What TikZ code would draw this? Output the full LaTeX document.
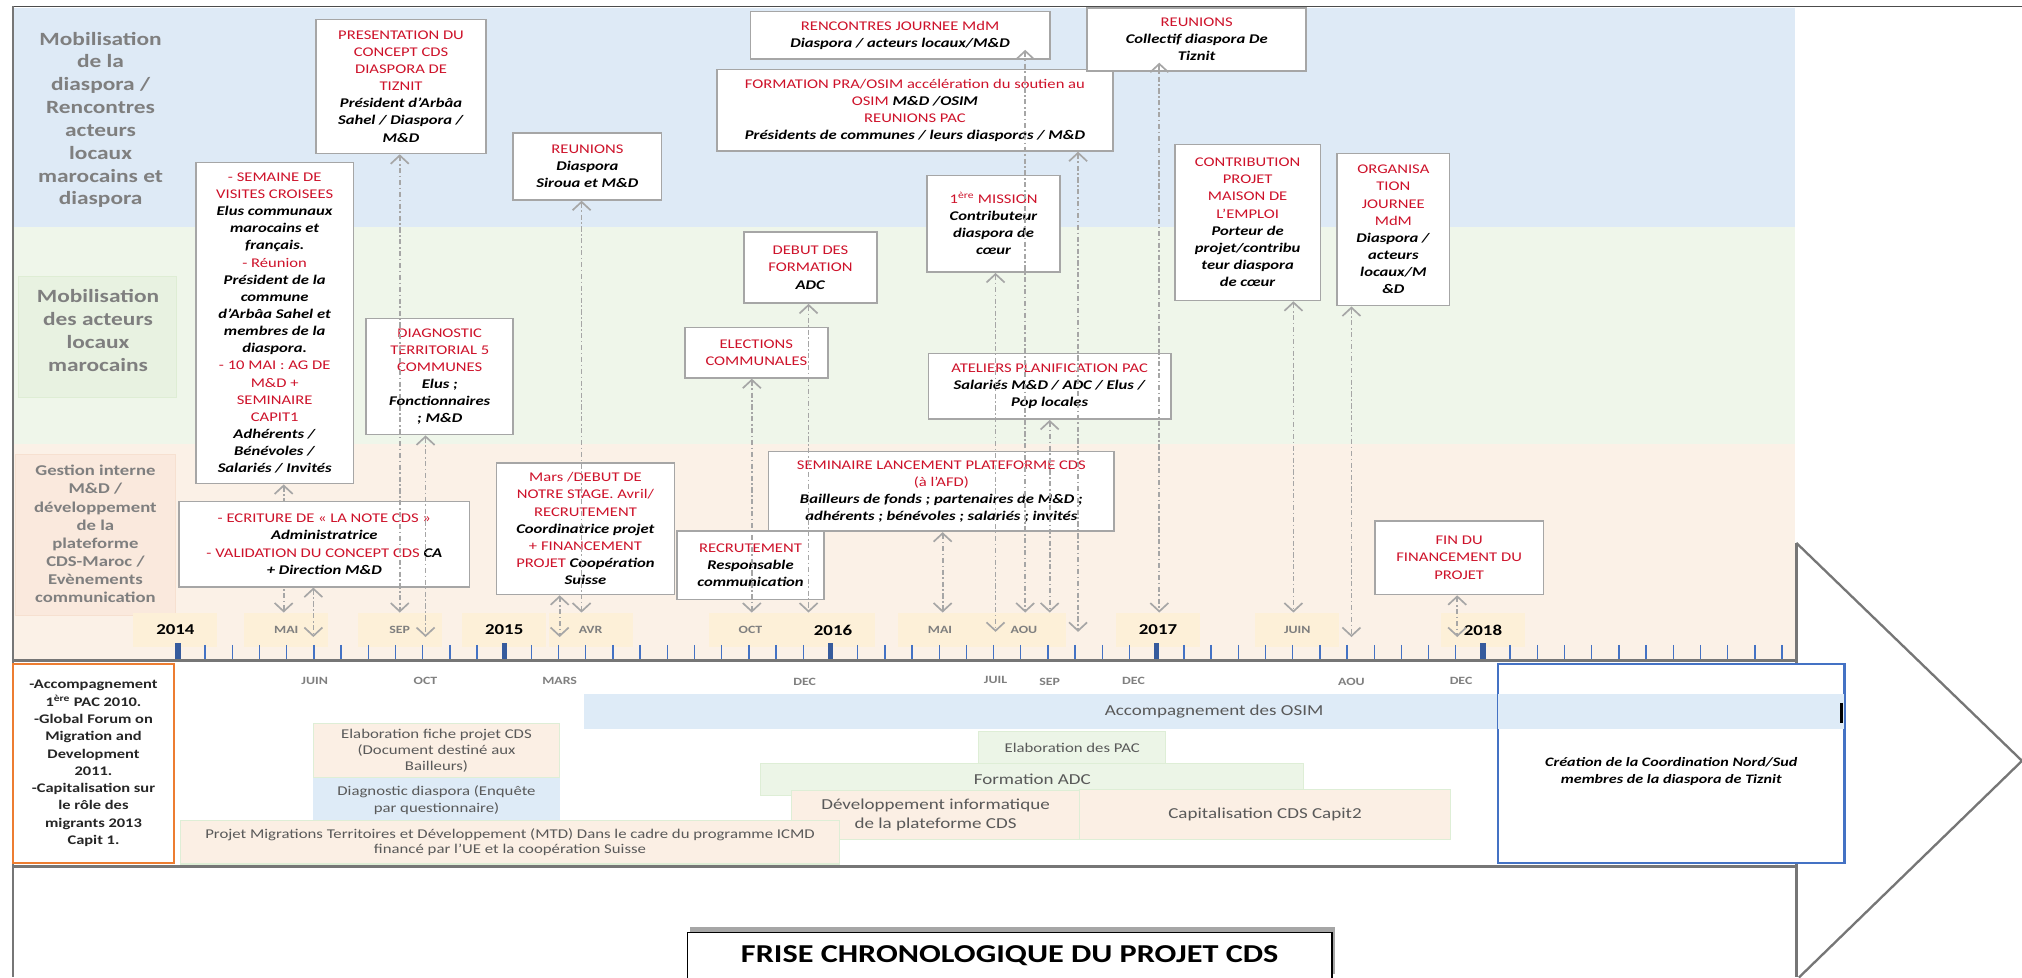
\documentclass[tikz,border=0pt]{standalone}
\usepackage{fontspec}
\setmainfont{Carlito}[FakeStretch=1.25]
\usetikzlibrary{arrows.meta,shadows}
\definecolor{bandblue}{RGB}{222,234,246}
\definecolor{bandgreen}{RGB}{239,246,234}
\definecolor{bandpeach}{RGB}{251,241,231}
\definecolor{lbgreen}{RGB}{232,242,225}
\definecolor{lbgreenb}{RGB}{222,237,212}
\definecolor{lbpeach}{RGB}{250,233,221}
\definecolor{lbpeachb}{RGB}{246,224,208}
\definecolor{mlbl}{RGB}{253,240,216}
\definecolor{boxgray}{RGB}{166,166,166}
\definecolor{evred}{RGB}{206,18,42}
\definecolor{lanegray}{RGB}{127,127,127}
\definecolor{tickblue}{RGB}{68,114,196}
\definecolor{barblue}{RGB}{222,235,247}
\definecolor{bargreen}{RGB}{236,245,231}
\definecolor{barpeach}{RGB}{251,239,228}
\definecolor{barborder}{RGB}{222,238,214}
\definecolor{bartext}{RGB}{89,89,89}
\definecolor{accorange}{RGB}{237,125,49}
\definecolor{framegray}{RGB}{118,118,118}
\definecolor{crblue}{RGB}{68,114,196}
\newcommand\Rd[1]{\textcolor{evred}{#1}}
\newcommand\Bk[1]{\textbf{\textit{#1}}}
\tikzset{
  evt/.style={draw=boxgray, line width=1.3pt, fill=white, align=center, inner sep=0pt,
    font=\fontsize{10.3}{13.3}\selectfont},
  cn/.style={draw=boxgray, line width=1.3pt, dash pattern=on 4pt off 2pt on 1.2pt off 2pt,
    {Straight Barb[length=6.5pt,width=14pt]}-{Straight Barb[length=6.5pt,width=14pt]}},
  mlbox/.style={fill=mlbl, minimum width=65pt, minimum height=26pt, inner sep=0pt},
  yrlbl/.style={font=\bfseries\fontsize{11.7}{14}\selectfont, text=black},
  molbl/.style={font=\bfseries\fontsize{8.6}{10}\selectfont, text=lanegray, inner sep=0pt},
  lanetext/.style={align=center, text=lanegray, inner sep=0pt},
  barbox/.style={draw=barborder, line width=0.8pt, inner sep=0pt, align=center, text=bartext},
}
\newcommand\EvBox[6]{\node[evt, minimum width={#4-#2}, minimum height={#5-#3}] (#1) at ({(#2+#4)/2},{(#3+#5)/2}) {#6};}
\newcommand\Conn[4][]{\coordinate (#2end) at (#3,#4); \draw[cn,#1] (#2.south -| #2end) -- (#2end);}
\begin{document}
\begin{tikzpicture}[x=1pt,y=-1pt]
\useasboundingbox (0,0) rectangle (1568,758);
% bands
\fill[bandblue] (11,6) rectangle (1392,176);
\fill[bandgreen] (11,176) rectangle (1392,344);
\fill[bandpeach] (11,344) rectangle (1392,512);
% lane labels
\node[lanetext, font=\bfseries\fontsize{14.5}{17.7}\selectfont] (lane1) at (78,93)
  {Mobilisation\\de la\\diaspora /\\Rencontres\\acteurs\\locaux\\marocains et\\diaspora};
\node[draw=lbgreenb, fill=lbgreen, minimum width=123pt, minimum height=94pt, inner sep=0pt] (lane2box) at (75.5,261) {};
\node[lanetext, font=\bfseries\fontsize{14.5}{17.8}\selectfont] (lane2) at (76,256)
  {Mobilisation\\des acteurs\\locaux\\marocains};
\node[draw=lbpeachb, fill=lbpeach, minimum width=124pt, minimum height=125pt, inner sep=0pt] (lane3box) at (74,414.5) {};
\node[lanetext, font=\bfseries\fontsize{11.6}{14}\selectfont] (lane3) at (74,414)
  {Gestion interne\\M\&D /\\développement\\de la\\plateforme\\CDS-Maroc /\\Evènements\\communication};
% month / year labels above the axis
\node[mlbox, yrlbl] (l2014) at (136,488.5) {2014};
\node[mlbox, molbl] (lMAI14) at (222,488.5) {MAI};
\node[mlbox, molbl] (lSEP14) at (310,488.5) {SEP};
\node[mlbox, yrlbl] (l2015) at (391,488.5) {2015};
\node[mlbox, molbl] (lAVR15) at (458,488.5) {AVR};
\node[mlbox, molbl] (lOCT15) at (582,488.5) {OCT};
\node[mlbox, yrlbl] (l2016) at (646,488.5) {2016};
\node[mlbox, molbl] (lMAI16) at (729,488.5) {MAI};
\node[mlbox, molbl] (lAOU16) at (794,488.5) {AOU};
\node[mlbox, yrlbl] (l2017) at (898,488.5) {2017};
\node[mlbox, molbl] (lJUIN17) at (1006,488.5) {JUIN};
\node[mlbox, yrlbl] (l2018) at (1150,488.5) {2018};
% ticks
\foreach \m in {0,...,59} \draw[tickblue, line width=1.1pt] ({138+21.083*\m},500) -- ({138+21.083*\m},511);
\foreach \m in {0,12,24,36,48} \fill[tickblue!80!black] ({136+21.083*\m},499) rectangle ({140+21.083*\m},511);
% month labels below the axis
\node[molbl] (bJUIN14) at (244,528) {JUIN};
\node[molbl] (bOCT14) at (330,528) {OCT};
\node[molbl] (bMARS15) at (434,528) {MARS};
\node[molbl] (bDEC15) at (624,529) {DEC};
\node[molbl] (bJUIL16) at (772,527) {JUIL};
\node[molbl] (bSEP16) at (814,529) {SEP};
\node[molbl] (bDEC16) at (879,528) {DEC};
\node[molbl] (bAOU17) at (1048,529) {AOU};
\node[molbl] (bDEC17) at (1133,528) {DEC};
% frame
\draw[gray!60!black, line width=1.4pt] (10,5) -- (1568,5);
\draw[framegray, line width=1.3pt] (10,5) -- (10,758);
\draw[framegray, line width=1.8pt] (1393,421) -- (1393,758);
\draw[framegray, line width=1.8pt] (1393,421) -- (1568,590) -- (1395,758);
\draw[framegray, line width=2.2pt] (10,512) -- (1393,512);
\draw[framegray, line width=2.2pt] (10,672) -- (1393,672);
% bottom panel bars
\node[barbox, fill=barpeach, minimum width=191pt, minimum height=42pt, font=\fontsize{10.4}{12.5}\selectfont] (fiche) at (338.5,582)
  {Elaboration fiche projet CDS\\(Document destiné aux\\Bailleurs)};
\node[barbox, draw=none, fill=barblue, minimum width=191pt, minimum height=35pt, font=\fontsize{10.4}{12.8}\selectfont] (diasp) at (338.5,620.5)
  {Diagnostic diaspora (Enquête\\par questionnaire)};
\node[barbox, fill=bargreen, minimum width=145pt, minimum height=26pt, font=\fontsize{10.4}{12.5}\selectfont] (pac) at (831.5,580) {Elaboration des PAC};
\node[barbox, fill=bargreen, minimum width=421pt, minimum height=25pt, font=\fontsize{11.8}{14}\selectfont] (adc) at (800.5,604.5) {Formation ADC};
\node[barbox, fill=barpeach, minimum width=223pt, minimum height=38pt, font=\fontsize{11.8}{14.5}\selectfont] (devinfo) at (725.5,632)
  {Développement informatique\\de la plateforme CDS};
\node[barbox, fill=barpeach, minimum width=288pt, minimum height=39pt, font=\fontsize{11.8}{14}\selectfont] (capit) at (981,631.5) {Capitalisation CDS Capit2};
\node[barbox, fill=barpeach, minimum width=511pt, minimum height=34pt, font=\fontsize{10.4}{12}\selectfont] (mtd) at (395.5,653)
  {Projet Migrations Territoires et Développement (MTD) Dans le cadre du programme ICMD\\financé par l’UE et la coopération Suisse};
\node[draw=accorange, line width=1.5pt, fill=white, minimum width=125pt, minimum height=154pt, inner sep=0pt, align=center,
  font=\bfseries\fontsize{10.2}{13.4}\selectfont, text=black!85] (accomp) at (72.5,592)
  {-Accompagnement\\1\textsuperscript{ère} PAC 2010.\\-Global Forum on\\Migration and\\Development\\2011.\\-Capitalisation sur\\le rôle des\\migrants 2013\\Capit 1.};
\node[draw=crblue, line width=1.2pt, fill=white, minimum width=268pt, minimum height=154pt, inner sep=0pt] (creation) at (1296,592) {};
\node[barbox, draw=none, fill=barblue, minimum width=977pt, minimum height=27pt, font=\fontsize{11.8}{14}\selectfont] (osim) at (941.5,551.5) {Accompagnement des OSIM};
\draw[crblue, line width=1.2pt] (creation.north west) rectangle (creation.south east);
\draw[black, line width=2pt] (1428,545) -- (1428,561);
\node[align=center, inner sep=0pt, font=\bfseries\itshape\fontsize{10}{13}\selectfont] (creationtxt) at (1296,598.5)
  {Création de la Coordination Nord/Sud\\membres de la diaspora de Tiznit};
% connector hidden behind the ECRITURE box
\EvBox{sem}{152}{126}{274}{375}{\Rd{- SEMAINE DE}\\\Rd{VISITES CROISEES}\\\Bk{Elus communaux}\\\Bk{marocains et}\\\Bk{français.}\\\Rd{- Réunion}\\\Bk{Président de la}\\\Bk{commune}\\\Bk{d’Arbâa Sahel et}\\\Bk{membres de la}\\\Bk{diaspora.}\\\Rd{- 10 MAI : AG DE}\\\Rd{M\&D +}\\\Rd{SEMINAIRE}\\\Rd{CAPIT1}\\\Bk{Adhérents /}\\\Bk{Bénévoles /}\\\Bk{Salariés / Invités}}
\Conn{sem}{220}{475}
% event boxes
\EvBox{pres}{245}{15}{377}{119}{\Rd{PRESENTATION DU}\\\Rd{CONCEPT CDS}\\\Rd{DIASPORA DE}\\\Rd{TIZNIT}\\\Bk{Président d’Arbâa}\\\Bk{Sahel / Diaspora /}\\\Bk{M\&D}}
\EvBox{diag}{284}{247}{398}{337}{\Rd{DIAGNOSTIC}\\\Rd{TERRITORIAL 5}\\\Rd{COMMUNES}\\\Bk{Elus ;}\\\Bk{Fonctionnaires}\\\Bk{; M\&D}}
\EvBox{ecr}{139}{389}{364}{455}{\Rd{- ECRITURE DE « LA NOTE CDS »}\\\Bk{Administratrice}\\\Rd{- VALIDATION DU CONCEPT CDS} \Bk{CA}\\\Bk{+ Direction M\&D}}
\EvBox{siroua}{398}{103}{513}{155}{\Rd{REUNIONS}\\\Bk{Diaspora}\\\Bk{Siroua et M\&D}}
\EvBox{mars}{385}{359}{523}{461}{\Rd{Mars /DEBUT DE}\\\Rd{NOTRE STAGE. Avril/}\\\Rd{RECRUTEMENT}\\\Bk{Coordinatrice projet}\\\Rd{+ FINANCEMENT}\\\Rd{PROJET} \Bk{Coopération}\\\Bk{Suisse}}
\EvBox{semin}{596}{350}{864}{412}{\Rd{SEMINAIRE LANCEMENT PLATEFORME CDS}\\\Rd{(à l’AFD)}\\\Bk{Bailleurs de fonds ; partenaires de M\&D ;}\\\Bk{adhérents ; bénévoles ; salariés ; invités}}
\EvBox{recr}{525}{412}{639}{465}{\Rd{RECRUTEMENT}\\\Bk{Responsable}\\\Bk{communication}}
\EvBox{elec}{531}{254}{642}{293}{\Rd{ELECTIONS}\\\Rd{COMMUNALES}}
\EvBox{debut}{577}{180}{680}{235}{\Rd{DEBUT DES}\\\Rd{FORMATION}\\\Bk{ADC}}
\EvBox{renc}{582}{9}{814}{46}{\Rd{RENCONTRES JOURNEE MdM}\\\Bk{Diaspora / acteurs locaux/M\&D}}
\EvBox{formpra}{556}{54}{863}{117}{\Rd{FORMATION PRA/OSIM accélération du soutien au}\\\Rd{OSIM} \Bk{M\&D /OSIM}\\\Rd{REUNIONS PAC}\\\Bk{Présidents de communes / leurs diasporas / M\&D}}
\EvBox{mission}{719}{136}{822}{211}{\Rd{1\textsuperscript{ère} MISSION}\\\Bk{Contributeur}\\\Bk{diaspora de}\\\Bk{cœur}}
\EvBox{ateliers}{720}{274}{908}{325}{\Rd{ATELIERS PLANIFICATION PAC}\\\Bk{Salariés M\&D / ADC / Elus /}\\\Bk{Pop locales}}
\EvBox{collectif}{843}{6}{1013}{55}{\Rd{REUNIONS}\\\Bk{Collectif diaspora De}\\\Bk{Tiznit}}
\EvBox{contrib}{911}{112}{1024}{233}{\Rd{CONTRIBUTION}\\\Rd{PROJET}\\\Rd{MAISON DE}\\\Rd{L’EMPLOI}\\\Bk{Porteur de}\\\Bk{projet/contribu}\\\Bk{teur diaspora}\\\Bk{de cœur}}
\EvBox{organ}{1037}{119}{1124}{237}{\Rd{ORGANISA}\\\Rd{TION}\\\Rd{JOURNEE}\\\Rd{MdM}\\\Bk{Diaspora /}\\\Bk{acteurs}\\\Bk{locaux/M}\\\Bk{\&D}}
\EvBox{fin}{1066}{404}{1197}{461}{\Rd{FIN DU}\\\Rd{FINANCEMENT DU}\\\Rd{PROJET}}
% connectors
\Conn{ecr}{243}{494}
\Conn{pres}{310}{475}
\Conn{diag}{330}{494}
\Conn{mars}{434}{494}
\Conn{siroua}{451}{475}
\Conn{elec}{583}{475}
\Conn{debut}{627}{475}
\Conn{semin}{731}{475}
\Conn{mission}{772}{490}
\Conn[shorten <=-8pt]{renc}{795}{475}
\Conn{ateliers}{814}{475}
\Conn{formpra}{836}{490}
\Conn[shorten <=-7pt]{collectif}{899}{475}
\Conn{contrib}{1003}{475}
\Conn{organ}{1048}{494}
\Conn{fin}{1130}{494}
% title
\node[draw=black, line width=1.2pt, fill=white, minimum width=500pt, minimum height=36pt, inner sep=0pt,
  font=\bfseries\fontsize{20}{23}\selectfont,
  drop shadow={shadow xshift=2pt, shadow yshift=4pt, fill=black, opacity=0.35}] (title) at (783,741)
  {FRISE CHRONOLOGIQUE DU PROJET CDS};
\end{tikzpicture}
\end{document}
